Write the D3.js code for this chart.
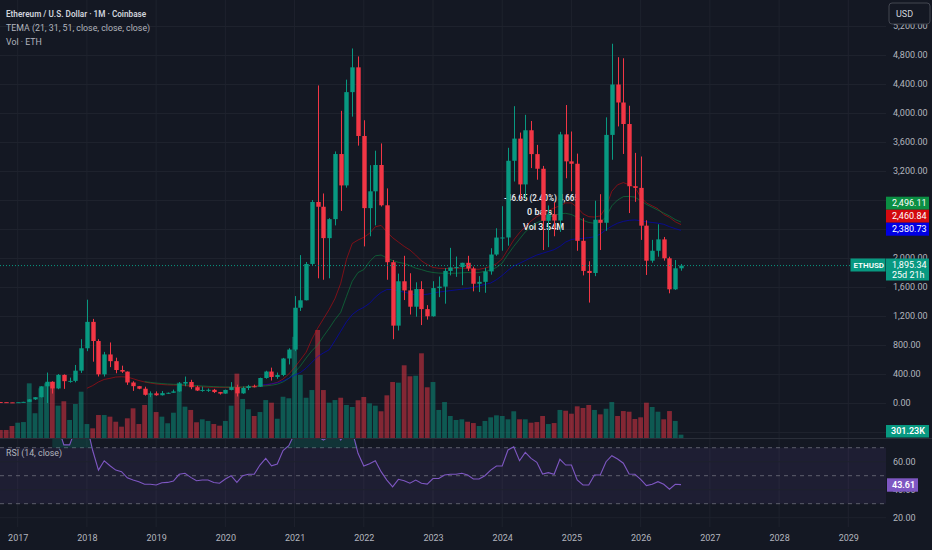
<!DOCTYPE html>
<html><head><meta charset="utf-8">
<script src="https://cdn.jsdelivr.net/npm/d3@7"></script>
<style>
html,body{margin:0;padding:0;background:#141823;overflow:hidden;}
svg{display:block;}
text{font-family:Roboto,"Noto Sans",sans-serif;}
</style></head><body>
<svg id="c" width="932" height="550"></svg>
<script>
// ---------- DATA (monthly, index 0 = Jan 2017; first bar = Oct 2016) ----------
const firstMonth = -3;
const open = [13.2,11.3,8.7,8.0,10.7,15.7,50,79.8,230,293,201,388,301,305,446,755,1119,855,395,670,577,455,433,283,232,197,113,133,107,136,141,160,268,290,218,172,180,182,151,130,180,218,133,207,231,225,345,434,359,386,614,737,1314,1417,1918,2773,2707,2274,2536,3434,3001,4288,4630,3683,2688,2920,3283,2727,1942,1067,1679,1553,1328,1572,1295,1196,1585,1605,1822,1870,1874,1934,1856,1645,1671,1815,2048,2282,2283,3341,3647,3015,3762,3433,3231,2513,2602,2517,3705,3333,3300,2237,1822,1793,2528,2486,3698,4393,4145,3848,2990,2967,2446,1963,2100,2257,1996,1568,1858];
const high = [14.2,11.8,8.9,11.5,16.4,55,80,230,420,300,400,395,350,525,880,1425,1160,880,705,835,625,515,435,300,235,225,160,160,165,145,185,288,365,320,239,226,200,195,153,185,288,253,227,250,253,350,445,488,420,622,755,1475,2040,1945,2800,4380,2890,2550,3470,4030,4460,4890,4780,3900,3280,3480,3580,2960,1970,1785,2030,1790,1665,1680,1350,1680,1745,1860,2140,2020,1935,2030,1880,1750,1865,2135,2410,2715,3520,4094,3730,3975,3890,3560,3270,2725,2770,3740,4110,3745,3440,2550,1955,2790,2880,3940,4955,4770,4755,4100,3450,3400,2520,2250,2465,2290,2018,1972,1917];
const low = [10.3,8.5,6.3,7.8,10.3,15.4,42,77,0.1,130,190,195,280,285,415,715,570,366,365,495,410,415,250,167,190,102,81,100,103,125,140,153,231,190,165,155,153,137,116,126,174,90,126,178,215,222,335,310,333,370,532,715,1270,1415,1900,1720,1700,1720,2450,2650,2970,3950,3550,2160,2300,2450,2710,1700,880,1000,1420,1220,1190,1075,1150,1190,1460,1370,1760,1740,1625,1820,1540,1530,1520,1770,2030,2100,2170,3055,2810,2815,3240,3080,2110,2150,2300,2360,3100,2920,2100,1760,1385,1750,2110,2375,3355,3815,3435,2620,2775,2250,1766,1935,2018,1963,1513,1560,1825];
const close = [11.3,8.7,8.0,10.7,15.7,50,79.8,230,293,201,388,301,305,446,755,1119,855,395,670,577,455,433,283,232,197,113,133,107,136,141,160,268,290,218,172,180,182,151,130,180,218,133,207,231,225,345,434,359,386,614,737,1314,1417,1918,2773,2707,2274,2536,3434,3001,4288,4630,3683,2688,2920,3283,2727,1942,1067,1679,1553,1328,1572,1295,1196,1585,1605,1822,1870,1874,1934,1856,1645,1671,1815,2048,2282,2283,3341,3647,3015,3762,3433,3231,2513,2602,2517,3705,3333,3300,2237,1822,1793,2528,2486,3698,4393,4145,3848,2990,2967,2446,1963,2100,2257,1996,1568,1858,1895.34];
// volume in millions ETH
const volume = [0.73,0.73,1.09,1.39,1.45,4.97,2.25,4.52,4.97,5.09,2.94,3.34,1.64,3.09,4.21,1.27,0.88,2.09,2.09,1.94,1.48,1.03,1.79,2.70,1.27,3.00,3.91,2.36,1.94,1.34,2.30,5.03,2.85,2.55,1.43,1.70,1.55,1.27,1.12,1.55,2.94,5.85,3.55,2.61,2.00,2.36,3.45,3.21,1.75,3.75,3.61,9.2,5.73,3.66,4.36,9.82,4.36,3.21,3.45,3.66,3.00,2.82,3.43,3.73,3.15,2.94,2.43,3.88,5.09,5.03,6.61,5.61,5.66,7.70,4.61,5.09,2.55,3.27,2.00,1.64,1.70,1.48,1.36,1.09,1.55,1.88,2.06,2.00,1.70,2.43,1.70,1.70,1.39,1.45,2.00,1.27,1.36,2.55,2.48,2.21,2.88,2.73,3.00,2.55,2.15,2.66,3.27,2.00,2.45,2.39,1.73,1.88,3.21,2.82,2.39,1.70,2.45,1.55,0.30123];
// TEMA (21, 31, 51) values
const temaRedStart = 12;
const temaRed = [203,240,290,325,340,358,362,357,335,310,290,275,263,255,250,248,248,240,232,227,222,218,216,215,215,216,216,218,225,235,242,248,262,285,330,400,490,593,700,880,1030,1160,1290,1440,1650,1980,2200,2248,2285,2340,2430,2450,2360,2280,2220,2160,2110,2040,1960,1910,1870,1858,1855,1856,1858,1860,1855,1845,1845,1860,1885,1920,1990,2120,2250,2350,2430,2510,2570,2610,2655,2690,2720,2760,2760,2700,2610,2570,2565,2580,2700,2920,3010,3040,3010,2980,2840,2760,2720,2680,2600,2560,2500,2460.84];
const temaGreenStart = 22;
const temaGreen = [294,285,275,268,262,258,255,250,245,240,235,230,226,223,221,220,220,220,222,226,230,236,245,260,290,340,420,510,620,720,800,920,1030,1150,1250,1470,1680,1800,1840,1950,2030,2041,2000,1965,1940,1925,1895,1860,1840,1815,1800,1792,1789,1789,1790,1795,1800,1795,1800,1815,1834,1870,1930,2050,2160,2260,2360,2430,2487,2520,2560,2590,2610,2616,2600,2560,2520,2490,2479,2490,2570,2720,2800,2846,2850,2840,2790,2740,2700,2660,2620,2580,2530,2496.11];
const temaBlueStart = 42;
const temaBlue = [248,255,265,280,305,340,385,420,480,560,640,690,735,860,990,1120,1220,1280,1320,1375,1460,1525,1565,1565,1545,1530,1510,1490,1492,1500,1515,1530,1540,1550,1560,1570,1580,1595,1615,1635,1655,1700,1760,1830,1890,1927,1965,2005,2041,2065,2090,2115,2160,2220,2255,2265,2272,2280,2292,2330,2390,2440,2480,2505,2520,2525,2515,2500,2490,2480,2465,2432,2405,2380.73];
// RSI(14)
const rsiStart = 6;
const rsi = [80,85,72,72,83,88,86,68,54,60.7,57.1,54,52.9,48.5,46.9,45.7,43.9,43.9,43.4,45,45.2,46.2,51,51.7,48.8,46.4,46.9,46.9,45.2,44.6,47.6,50,45.2,50,51,51,57.6,62.4,57.1,58.3,67.9,71.4,80,80,82,84,78,75.5,78,82,75.5,81,82,66,56.9,58.5,60.7,52.9,46.9,42.1,47.4,46.4,44.6,46.9,44.6,44,48,48,50.5,51,51,51.7,50.5,47.6,47.6,50,54,56.9,56.9,68.4,70.7,60.7,66.7,62.4,59.6,51.2,52.2,51,61.7,57.6,57.6,46.9,43.4,43.4,50.5,50.5,60,64.3,61.9,58.9,51.2,51,47.4,42.9,43.9,45.7,43.9,40.3,43.9,43.61];
// tick labels
const yearTicks = [2017,2018,2019,2020,2021,2022,2023,2024,2025,2026,2027,2028,2029];
const priceGridTicks = [-400,0,400,800,1200,1600,2000,2400,2800,3200,3600,4000,4400,4800,5200];
const priceLabelTicks = [0,400,800,1200,1600,2000,3200,3600,4000,4400,4800,5200];
const rsiGridTicks = [20,40,60];
const rsiLabelTicks = [20,40,60];
const lastPrice = 1895.34, lastVolLabel = "301.23K", lastRsi = 43.61;
const temaLabels = [{t:"2,496.11",c:"#0b8f43"},{t:"2,460.84",c:"#d30a0f"},{t:"2,380.73",c:"#0000e3"}];

// ---------- LAYOUT ----------
const W=932,H=550, paneR=886, mainB=438, rsiB=527;
const BG="#141823", GRID="#1e222d", TXT="#b2b5be", UP="#089981", DN="#f23645";
const FS="9px";
const svg=d3.select("#c");
const x=d3.scaleLinear().domain([0,144]).range([17.7,848.3]);
const yP=d3.scaleLinear().domain([0,4800]).range([403,55]);
const yV=d3.scaleLinear().domain([0,10]).range([mainB,328]);
const yR=d3.scaleLinear().domain([30,70]).range([503.7,447.7]);

svg.append("rect").attr("width",W).attr("height",H).attr("fill",BG);
const defs=svg.append("defs");
defs.append("clipPath").attr("id","cm").append("rect").attr("x",0).attr("y",0).attr("width",paneR).attr("height",mainB);
defs.append("clipPath").attr("id","cr").append("rect").attr("x",0).attr("y",mainB+1).attr("width",paneR).attr("height",rsiB-mainB-1);

const bars=open.map((o,i)=>({m:firstMonth+i,o,h:high[i],l:low[i],c:close[i],v:volume[i]}));

// grid
svg.append("g").selectAll("line").data(yearTicks).join("line")
  .attr("x1",d=>x((d-2017)*12)).attr("x2",d=>x((d-2017)*12)).attr("y1",0).attr("y2",rsiB)
  .attr("stroke",GRID).attr("stroke-width",1);
svg.append("g").attr("clip-path","url(#cm)").selectAll("line").data(priceGridTicks).join("line")
  .attr("x1",0).attr("x2",paneR).attr("y1",d=>Math.round(yP(d))+0.5).attr("y2",d=>Math.round(yP(d))+0.5)
  .attr("stroke",GRID);

// RSI pane background band & grid
const gR=svg.append("g").attr("clip-path","url(#cr)");
gR.append("rect").attr("x",0).attr("width",paneR).attr("y",yR(70)).attr("height",yR(30)-yR(70)).attr("fill","rgba(126,87,194,0.1)");
gR.selectAll(".rg").data(rsiGridTicks).join("line").attr("x1",0).attr("x2",paneR)
  .attr("y1",d=>yR(d)).attr("y2",d=>yR(d)).attr("stroke",GRID);
gR.selectAll(".rd").data([70,50,30]).join("line").attr("x1",0).attr("x2",paneR)
  .attr("y1",d=>yR(d)).attr("y2",d=>yR(d)).attr("stroke","#787b86").attr("stroke-opacity",0.7).attr("stroke-dasharray","4,4");

// pane separator
svg.append("line").attr("x1",0).attr("x2",W).attr("y1",mainB+0.5).attr("y2",mainB+0.5).attr("stroke","#2a2e39");

// main pane content
const gM=svg.append("g").attr("clip-path","url(#cm)");
gM.selectAll(".vol").data(bars).join("rect")
  .attr("x",d=>x(d.m)-2.4).attr("width",4.8).attr("y",d=>yV(d.v)).attr("height",d=>mainB-yV(d.v))
  .attr("fill",d=>d.c>=d.o?UP:DN).attr("fill-opacity",0.5);

// measurement overlay text (partly covered by candles, as in the reference)
const gT=gM.append("g").attr("fill","#e8e9ec").attr("font-size","9px").attr("font-weight",600);
gT.append("text").attr("x",504).attr("y",201).attr("textLength",75).attr("lengthAdjust","spacingAndGlyphs").text("-46.65 (2.40%) 4,665");
gT.append("text").attr("x",527).attr("y",215).text("0 bars,");
gT.append("text").attr("x",523).attr("y",230).text("Vol 3.54M");

// TEMA lines
const line=d3.line().x(d=>x(d.m)).y(d=>yP(d.v));
[[temaRed,temaRedStart,"#d30a0f"],[temaGreen,temaGreenStart,"#0b8f43"],[temaBlue,temaBlueStart,"#0000e3"]].forEach(([arr,s,col])=>{
  gM.append("path").datum(arr.map((v,i)=>({m:s+i,v}))).attr("d",line)
    .attr("fill","none").attr("stroke",col).attr("stroke-opacity",0.55).attr("stroke-width",1);
});

// candles
const gC=gM.append("g");
gC.selectAll(".w").data(bars).join("line")
  .attr("x1",d=>Math.round(x(d.m))+0.5).attr("x2",d=>Math.round(x(d.m))+0.5)
  .attr("y1",d=>yP(d.h)).attr("y2",d=>yP(d.l)).attr("stroke",d=>d.c>=d.o?UP:DN).attr("stroke-width",1);
gC.selectAll(".b").data(bars).join("rect")
  .attr("x",d=>Math.round(x(d.m))+0.5-2.2).attr("width",4.4)
  .attr("y",d=>yP(Math.max(d.o,d.c))).attr("height",d=>Math.max(1,Math.abs(yP(d.o)-yP(d.c))))
  .attr("fill",d=>d.c>=d.o?UP:DN);

// last price dotted line
gM.append("line").attr("x1",0).attr("x2",850).attr("y1",yP(lastPrice)).attr("y2",yP(lastPrice))
  .attr("stroke",UP).attr("stroke-dasharray","1,2").attr("stroke-width",1);

// RSI
const rsiData=rsi.map((v,i)=>({m:rsiStart+i,v}));
gR.append("path").datum(rsiData)
  .attr("d",d3.area().x(d=>x(d.m)).y0(yR(70)).y1(d=>yR(Math.max(70,d.v))))
  .attr("fill","rgba(8,153,129,0.22)");
gR.append("path").datum(rsiData).attr("d",d3.line().x(d=>x(d.m)).y(d=>yR(d.v)))
  .attr("fill","none").attr("stroke","#7e57c2").attr("stroke-width",1.1);

// legends
const gL=svg.append("g").attr("font-size","8.8px");
gL.append("text").attr("x",6).attr("y",17).attr("fill","#d1d4dc").attr("font-weight",600).attr("font-size","8.2px").text("Ethereum / U.S. Dollar · 1M · Coinbase");
gL.append("text").attr("x",6).attr("y",31).attr("fill",TXT).text("TEMA (21, 31, 51, close, close, close)");
gL.append("text").attr("x",6).attr("y",45).attr("fill",TXT).text("Vol · ETH");
gL.append("text").attr("x",6).attr("y",456).attr("fill",TXT).text("RSI (14, close)");

// axes
function styleAxis(g){g.select(".domain").remove();g.selectAll("text").attr("fill",TXT).attr("font-size",FS).attr("font-family","Roboto, 'Noto Sans', sans-serif");}
svg.append("g").attr("transform","translate(893,0)")
  .call(d3.axisRight(yP).tickValues(priceLabelTicks).tickFormat(d3.format(",.2f")).tickSize(0).tickPadding(0)).call(styleAxis);
svg.append("g").attr("transform","translate(893,0)")
  .call(d3.axisRight(yR).tickValues(rsiLabelTicks).tickFormat(d3.format(".2f")).tickSize(0).tickPadding(0)).call(styleAxis);
svg.append("g").attr("transform","translate(0,532)")
  .call(d3.axisBottom(x).tickValues(yearTicks.map(y=>(y-2017)*12)).tickFormat((d,i)=>String(yearTicks[i])).tickSize(0).tickPadding(3)).call(styleAxis);

// boxes on right axis
function box(x0,y0,w,h,fill,txt,opts={}){
  const g=svg.append("g");
  g.append("rect").attr("x",x0).attr("y",y0).attr("width",w).attr("height",h).attr("fill",fill).attr("rx",opts.rx||0)
    .attr("stroke",opts.stroke||"none");
  (Array.isArray(txt)?txt:[txt]).forEach((t,i,a)=>{
    g.append("text").attr("x",x0+(opts.pad||4)).attr("y",y0+h/2+(i-(a.length-1)/2)*10).attr("dy","0.35em")
      .attr("fill",opts.color||"#ffffff").attr("font-size",opts.fs||FS).attr("font-weight",opts.bold?600:400).text(t);
  });
}
box(889,3,41,21,"#141823","USD",{rx:3,stroke:"#434651",pad:7,color:"#d1d4dc"});
temaLabels.forEach((d,i)=>box(886,196.7+i*13,43,13,d.c,d.t,{pad:6}));
box(850.5,258.5,35,13,UP,"ETHUSD",{bold:true,pad:3,fs:"8px"});
box(886,258.5,43,22,UP,[d3.format(",.2f")(lastPrice),"25d 21h"],{pad:6});
box(886,425,43,12.5,UP,lastVolLabel,{bold:true,pad:5});
box(887,478.3,31,13.4,"#7e57c2",d3.format(".2f")(lastRsi),{bold:true,pad:5});
</script>
</body></html>
